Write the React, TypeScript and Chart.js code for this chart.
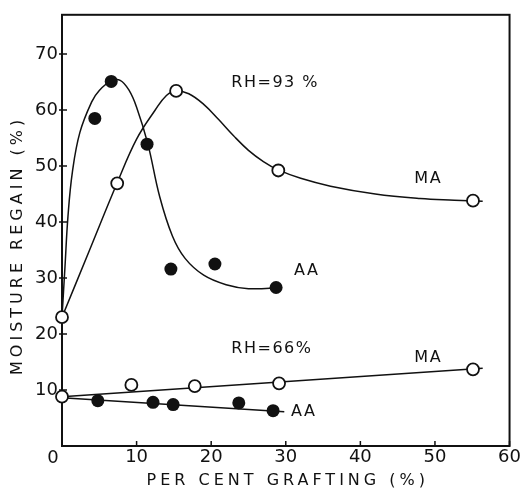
import React, { useEffect, useRef } from "react";
import { Chart, registerables } from "chart.js";
Chart.register(...registerables);

const xTickValues = [10, 20, 30, 40, 50, 60];
const yTickValues = [10, 20, 30, 40, 50, 60, 70];

// RH = 93 %  measured points
const aa93X = [4.4, 6.6, 11.4, 14.6, 20.5, 28.7];
const aa93Y = [58.5, 65.1, 53.9, 31.6, 32.5, 28.3];
const ma93X = [0, 7.4, 15.3, 29.0, 55.1];
const ma93Y = [23.0, 46.9, 63.4, 49.2, 43.8];

// RH = 93 %  drawn (fitted) curves
const aa93CurveX = [0, 0.4, 0.8, 1.4, 2.4, 4.0, 5.0, 6.6, 7.8, 9.0, 10.0, 11.5, 13.1, 14.8, 16.5, 19.0, 22.0, 25.0, 29.5];
const aa93CurveY = [23, 32, 41, 49, 56, 61.5, 63.5, 65.2, 65.3, 63.5, 60.5, 54, 44.5, 37.5, 33.5, 30.5, 28.8, 28.1, 28.3];
const ma93CurveX = [0, 3.7, 7.4, 10, 12.5, 14, 15.3, 17, 19, 21, 23, 25, 27, 29, 32, 36, 42, 48, 52.6, 56.4];
const ma93CurveY = [23, 35, 47, 54.8, 60, 62.6, 63.4, 62.9, 61.0, 58.3, 55.4, 52.8, 50.8, 49.3, 47.8, 46.4, 45.0, 44.2, 43.9, 43.7];

// RH = 66 %  measured points
const ma66X = [0, 9.3, 17.8, 29.1, 55.1];
const ma66Y = [8.8, 10.9, 10.7, 11.2, 13.7];
const aa66X = [4.8, 12.2, 14.9, 23.7, 28.3];
const aa66Y = [8.1, 7.8, 7.4, 7.7, 6.3];

// RH = 66 %  drawn straight lines
const ma66LineX = [0, 56.4];
const ma66LineY = [8.8, 13.9];
const aa66LineX = [0, 29.8];
const aa66LineY = [8.6, 6.1];

const annotations = [
  { text: "RH=93 %", x: 22.7, y: 64.8, align: "left" },
  { text: "MA", x: 49.1, y: 47.7, align: "center" },
  { text: "AA", x: 32.8, y: 31.2, align: "center" },
  { text: "RH=66%", x: 22.7, y: 17.3, align: "left" },
  { text: "MA", x: 49.1, y: 15.7, align: "center" },
  { text: "AA", x: 32.4, y: 6.1, align: "center" },
];

const FONT = "'DejaVu Sans', sans-serif";
const INK = "#111";

const pts = (xs: number[], ys: number[]) => xs.map((x, i) => ({ x, y: ys[i] }));

export default function App() {
  const ref = useRef<HTMLCanvasElement>(null);
  useEffect(() => {
    document.body.style.margin = "0";
    if (!ref.current) return;

    const decor = {
      id: "decor",
      beforeDatasetsDraw(chart: any) {
        const { ctx, chartArea: a, scales } = chart;
        ctx.save();
        ctx.strokeStyle = INK;
        ctx.lineWidth = 2;
        ctx.strokeRect(a.left, a.top, a.right - a.left, a.bottom - a.top);
        ctx.lineWidth = 1.5;
        yTickValues.forEach((v) => {
          const py = scales.y.getPixelForValue(v);
          ctx.beginPath();
          ctx.moveTo(a.left - 3, py);
          ctx.lineTo(a.left + 5, py);
          ctx.stroke();
        });
        xTickValues.forEach((v) => {
          const px = scales.x.getPixelForValue(v);
          ctx.beginPath();
          ctx.moveTo(px, a.bottom);
          ctx.lineTo(px, a.bottom - 5);
          ctx.stroke();
        });
        ctx.restore();
      },
      afterDatasetsDraw(chart: any) {
        const { ctx, chartArea: a, scales } = chart;
        ctx.save();
        ctx.fillStyle = INK;
        ctx.textBaseline = "middle";
        ctx.font = `16px ${FONT}`;
        (ctx as any).letterSpacing = "1.5px";
        annotations.forEach((an) => {
          ctx.textAlign = an.align as CanvasTextAlign;
          ctx.fillText(an.text, scales.x.getPixelForValue(an.x), scales.y.getPixelForValue(an.y));
        });
        // origin label
        (ctx as any).letterSpacing = "0px";
        ctx.font = `18px ${FONT}`;
        ctx.textAlign = "center";
        ctx.fillText("0", a.left - 9, a.bottom + 12);
        // axis titles
        ctx.font = `16px ${FONT}`;
        (ctx as any).letterSpacing = "4px";
        ctx.fillText("PER CENT GRAFTING (%)", (a.left + a.right) / 2 + 2, a.bottom + 35);
        ctx.translate(18, (a.top + a.bottom) / 2 + 15);
        ctx.rotate(-Math.PI / 2);
        ctx.fillText("MOISTURE REGAIN (%)", 0, 0);
        ctx.restore();
      },
    };

    const lineDs = (data: any[]) => ({
      data,
      showLine: true,
      borderColor: INK,
      borderWidth: 1.5,
      pointRadius: 0,
      tension: 0.4,
      clip: false,
      order: 2,
    });
    const pointDs = (data: any[], filled: boolean) => ({
      data,
      showLine: false,
      pointRadius: filled ? 6.5 : 6,
      pointBackgroundColor: filled ? INK : "#fff",
      pointBorderColor: INK,
      pointBorderWidth: filled ? 0 : 1.8,
      clip: false,
      order: 1,
    });

    const chart = new Chart(ref.current, {
      type: "scatter",
      data: {
        datasets: [
          lineDs(pts(aa93CurveX, aa93CurveY)),
          lineDs(pts(ma93CurveX, ma93CurveY)),
          lineDs(pts(ma66LineX, ma66LineY)),
          lineDs(pts(aa66LineX, aa66LineY)),
          pointDs(pts(aa93X, aa93Y), true),
          pointDs(pts(aa66X, aa66Y), true),
          pointDs(pts(ma93X, ma93Y), false),
          pointDs(pts(ma66X, ma66Y), false),
        ] as any,
      },
      options: {
        responsive: false,
        animation: false,
        layout: { padding: { top: 14, right: 11, left: 0, bottom: 0 } },
        plugins: { legend: { display: false }, tooltip: { enabled: false } },
        scales: {
          x: {
            type: "linear",
            min: 0,
            max: 60,
            grid: { display: false, drawTicks: false },
            border: { display: false },
            afterBuildTicks: (s: any) => {
              s.ticks = xTickValues.map((v) => ({ value: v }));
            },
            afterFit: (s: any) => {
              s.height = 45;
            },
            ticks: { color: INK, font: { family: FONT, size: 18 }, padding: 1, maxRotation: 0 },
          },
          y: {
            type: "linear",
            min: 0,
            max: 77,
            grid: { display: false, drawTicks: false },
            border: { display: false },
            afterBuildTicks: (s: any) => {
              s.ticks = yTickValues.map((v) => ({ value: v }));
            },
            afterFit: (s: any) => {
              s.width = 62;
            },
            ticks: { color: INK, font: { family: FONT, size: 18 }, padding: 4 },
          },
        },
      },
      plugins: [decor],
    });
    return () => chart.destroy();
  }, []);

  return (
    <div style={{ width: 522, height: 491 }}>
      <canvas ref={ref} width={522} height={491} style={{ display: "block" }} />
    </div>
  );
}
